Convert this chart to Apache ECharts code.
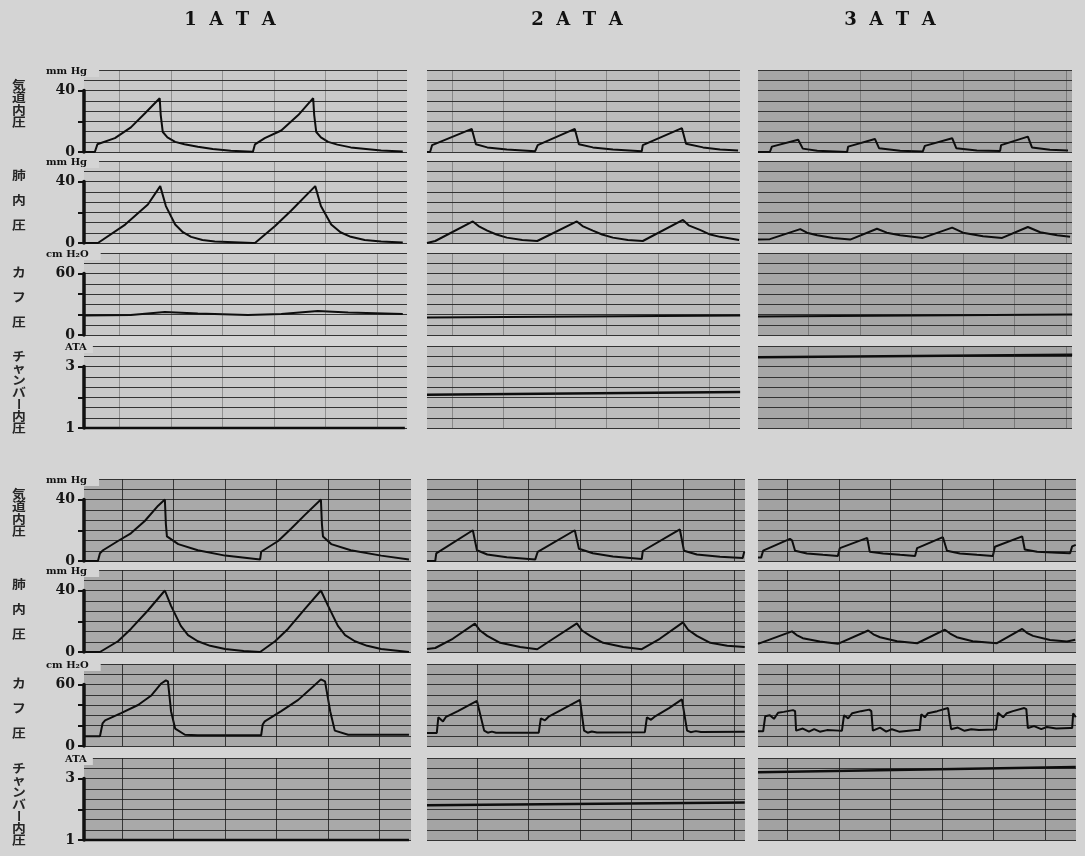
<!DOCTYPE html>
<html>
<head>
<meta charset="utf-8">
<title>気道内圧・肺内圧・カフ圧・チャンバー内圧</title>
<script src="https://cdn.jsdelivr.net/npm/echarts@6/dist/echarts.min.js"></script>
<style>
  html, body { margin: 0; padding: 0; background: #d4d4d4; }
  #chart { width: 1085px; height: 856px; }
</style>
</head>
<body>
<div id="chart"></div>
<script>
// 列見出し・行ラベル
const columnTitles = ['1ATA', '2ATA', '3ATA'];
const rowNames = ['気道内圧', '肺内圧', 'カフ圧', 'チャンバー内圧'];
const unitLabels = ['mm Hg', 'mm Hg', 'cm H₂O', 'ATA'];

// 時間 = 記録紙の縦罫 1 目盛, 値 = mmHg / cmH2O / ATA
// 上段の記録
const upperAirway1 = [[0,0],[0.21,0],[0.26,5],[0.6,9],[0.91,16],[1.18,25],[1.47,35],[1.49,24],[1.53,13],[1.62,9.5],[1.77,6.6],[1.95,5],[2.21,3.4],[2.5,2],[2.85,0.8],[3.28,0.2],[3.32,5],[3.51,9],[3.83,14],[4.16,24],[4.45,35],[4.47,24],[4.51,13],[4.6,9.5],[4.74,6.6],[4.92,4.8],[5.18,3],[5.77,1],[6.19,0.3]];
const upperLung1 = [[0,0],[0.27,0],[0.8,12],[1.24,25],[1.48,37],[1.59,24],[1.77,12],[1.92,7],[2.08,4],[2.3,2],[2.54,1],[3.28,0],[3.32,0],[3.71,11],[4.02,21],[4.49,37],[4.6,24],[4.8,12],[4.98,7],[5.18,4],[5.45,2],[5.77,1],[6.19,0.3]];
const upperCuff1 = [[0,19],[0.91,19.5],[1.57,22.5],[2.21,21],[3.18,19.5],[3.83,20.5],[4.54,23.5],[5.13,22],[6.19,20.5]];
const upperChamber1 = [[0,1],[6.23,1]];

const upperAirway2 = [[0,0],[0.06,0],[0.1,4.5],[0.87,15],[0.9,14],[0.95,5],[1.17,3],[1.55,1.6],[2.1,0.5],[2.13,0.5],[2.15,4.5],[2.87,15],[2.9,14],[2.95,5],[3.22,3],[3.61,1.6],[4.17,0.5],[4.19,4.5],[4.95,15.5],[4.98,14.5],[5.03,5.3],[5.36,3],[5.69,1.6],[6.04,1]];
const upperLung2 = [[0,0],[0.16,1.3],[0.89,14],[1.0,11],[1.17,8],[1.35,5.5],[1.55,3.5],[1.85,2],[2.14,1.3],[2.91,14],[3.02,11],[3.22,8],[3.4,5.5],[3.61,3.5],[3.9,2],[4.19,1.3],[4.97,15],[5.08,11.5],[5.3,8.5],[5.5,5.5],[5.69,4],[6.06,2]];
const upperCuff2 = [[0,17],[3,18],[6.08,19]];
const upperChamber2 = [[0,2.08],[6.08,2.17]];

const upperAirway3 = [[0,0],[0.23,0],[0.27,3.5],[0.78,8],[0.8,7.5],[0.87,2.2],[1.15,0.8],[1.73,0],[1.75,3.5],[2.27,8.5],[2.3,8],[2.35,2.5],[2.76,0.8],[3.2,0.4],[3.24,4],[3.77,9],[3.8,8.5],[3.85,2.5],[4.25,1],[4.7,0.6],[4.72,4.5],[5.24,10],[5.27,9.5],[5.32,3],[5.67,1.5],[6.02,1]];
const upperLung3 = [[0,2.2],[0.23,2.5],[0.82,9],[0.95,6.7],[1.15,5],[1.46,3.3],[1.79,2.2],[2.31,9.3],[2.5,6.7],[2.76,5],[3.2,3.3],[3.77,10],[3.98,6.7],[4.37,4.4],[4.74,3.3],[5.24,10.4],[5.48,7],[5.81,5],[6.06,4]];
const upperCuff3 = [[0,18],[3,19],[6.1,20]];
const upperChamber3 = [[0,3.3],[6.1,3.38]];

// 下段の記録
const lowerAirway1 = [[0,0],[0.27,0],[0.31,5],[0.37,7],[0.66,13],[0.91,18],[1.18,26],[1.44,36],[1.57,40],[1.59,24],[1.61,16],[1.83,11],[2.21,7],[2.74,3.5],[3.42,1],[3.44,6],[3.77,13],[4.02,21],[4.29,30],[4.6,40],[4.62,24],[4.64,16],[4.8,11],[5.18,7],[5.77,3.5],[6.31,1]];
const lowerLung1 = [[0,0],[0.31,0],[0.66,7],[0.91,15],[1.24,27],[1.57,40],[1.69,30],[1.88,17],[2.02,11],[2.21,7],[2.45,4],[2.74,2],[3.1,0.6],[3.42,0],[3.71,7],[3.96,15],[4.29,28],[4.6,40],[4.74,30],[4.93,17],[5.07,11],[5.26,7],[5.5,4],[5.77,2],[6.31,0]];
const lowerCuff1 = [[0,9.5],[0.31,9.5],[0.36,22],[0.41,25],[0.72,32],[1.05,40],[1.3,49],[1.5,61],[1.59,64],[1.63,63],[1.69,34],[1.77,17],[1.96,11],[2.21,10.5],[3.44,10.5],[3.47,21],[3.51,24],[3.83,34],[4.16,45],[4.45,58],[4.6,65],[4.68,63],[4.78,34],[4.87,15],[5.13,11],[6.31,11]];
const lowerChamber1 = [[0,1],[6.31,1]];

const lowerAirway2 = [[0,0],[0.16,0],[0.18,5],[0.89,20],[0.92,19],[0.97,7],[1.17,4.2],[1.55,2.4],[2.1,0.9],[2.13,0.9],[2.15,6],[2.87,20],[2.9,19],[2.95,8],[3.22,5],[3.61,3],[4.17,1.3],[4.19,6.5],[4.91,20.5],[4.94,19.5],[4.99,6.7],[5.24,4.2],[5.69,2.7],[6.13,2],[6.16,6]];
const lowerLung2 = [[0,2],[0.16,2.6],[0.5,8.6],[0.93,18.5],[1.03,14],[1.17,10.5],[1.42,6],[1.81,3.3],[2.14,1.8],[2.45,8.6],[2.91,18.6],[3.01,14],[3.17,10.5],[3.42,6],[3.81,3.3],[4.17,1.8],[4.52,8.6],[4.97,19.3],[5.07,14.5],[5.24,10.5],[5.5,6],[5.83,4],[6.17,3.3]];
const lowerCuff2 = [[0,12.7],[0.19,12.7],[0.22,28],[0.31,24],[0.37,28.5],[0.6,34],[0.97,44],[1.0,43],[1.11,15],[1.18,13],[1.26,14],[1.34,13],[1.51,13],[2.17,13],[2.21,27],[2.29,25],[2.37,29],[2.6,35],[2.97,45],[3.0,44],[3.05,15],[3.12,13],[3.2,14.2],[3.3,13.2],[4.23,13.5],[4.27,28],[4.35,25.5],[4.43,29],[4.7,37],[4.95,45.5],[4.98,44],[5.05,15],[5.12,13.5],[5.22,14.5],[5.32,13.6],[6.17,14]];
const lowerChamber2 = [[0,2.13],[6.17,2.22]];

const lowerAirway3 = [[0,2.2],[0.06,2.2],[0.1,6.7],[0.62,14.4],[0.66,13.5],[0.72,6.7],[0.95,4.9],[1.26,4],[1.55,3.3],[1.59,8.4],[2.12,15],[2.14,14],[2.17,6],[2.43,4.9],[2.76,4],[3.05,3.3],[3.09,8.4],[3.59,15.5],[3.62,14.5],[3.67,6.7],[3.92,4.9],[4.25,4],[4.56,3.3],[4.6,9.3],[5.13,16],[5.15,15],[5.18,7.5],[5.42,6],[5.81,5.4],[6.06,5],[6.1,9.5],[6.17,10.5]];
const lowerLung3 = [[0,5.3],[0.66,13.4],[0.75,11],[0.87,9],[1.2,6.8],[1.55,5.3],[2.14,14],[2.24,11.5],[2.37,9.6],[2.7,7],[3.09,5.7],[3.63,14.5],[3.73,12],[3.86,9.6],[4.17,7],[4.64,5.7],[5.13,15],[5.22,12.5],[5.34,10.5],[5.67,7.8],[6.0,6.8],[6.16,8]];
const lowerCuff3 = [[0,14.3],[0.1,14.3],[0.14,29],[0.23,30],[0.31,26.5],[0.39,32.4],[0.5,33.3],[0.68,35],[0.72,34],[0.74,15],[0.87,17],[0.99,14],[1.09,16.4],[1.2,14],[1.34,15.5],[1.57,15],[1.63,15],[1.67,30],[1.75,27],[1.83,32],[2.0,34],[2.16,35.5],[2.2,34],[2.23,15],[2.37,18],[2.49,14],[2.6,16.4],[2.74,14],[3.07,15.5],[3.14,15.5],[3.17,31],[3.24,28],[3.3,32],[3.48,34],[3.69,37],[3.72,36],[3.75,16.4],[3.88,18],[4.01,14.8],[4.14,16.4],[4.29,15.5],[4.62,16],[4.64,16],[4.66,32.4],[4.76,28],[4.83,32],[4.95,34],[5.17,37],[5.21,36],[5.24,17.5],[5.36,19.4],[5.5,16.4],[5.61,18.5],[5.79,17],[6.06,17.5],[6.1,17.5],[6.12,32],[6.17,28]];
const lowerChamber3 = [[0,3.2],[6.17,3.37]];

// 各行の縦軸 (8 目盛, ラベルは 0 と 6 目盛目)
const rowScales = [
  { min: 0, step: 20 / 3, labelMax: 40, labelStep: 20 },
  { min: 0, step: 20 / 3, labelMax: 40, labelStep: 20 },
  { min: 0, step: 10, labelMax: 60, labelStep: 20 },
  { min: 1, step: 1 / 3, labelMax: 3, labelStep: 1 }
];

const PX_PER_DIV = 51.5;
const PANEL_H = 82;
const DIVS = 8;
const PAGE_BG = '#d4d4d4';

const blocks = [
  {
    rowBottoms: [152, 243, 335, 428],
    cols: [[84, 407], [427, 740], [758, 1072]],
    bg: ['#c9c9c9', '#bdbdbd', '#a6a6a6'],
    vOffset: [0.69, 0.49, 0.98],
    vColor: 'rgba(40,40,40,0.35)',
    traces: [
      [upperAirway1, upperAirway2, upperAirway3],
      [upperLung1, upperLung2, upperLung3],
      [upperCuff1, upperCuff2, upperCuff3],
      [upperChamber1, upperChamber2, upperChamber3]
    ]
  },
  {
    rowBottoms: [561, 652, 746, 840],
    cols: [[84, 411], [427, 745], [758, 1076]],
    bg: ['#a9a9a9', '#a4a4a4', '#a2a2a2'],
    vOffset: [0.74, 0.97, 0.57],
    vColor: 'rgba(25,25,25,0.8)',
    traces: [
      [lowerAirway1, lowerAirway2, lowerAirway3],
      [lowerLung1, lowerLung2, lowerLung3],
      [lowerCuff1, lowerCuff2, lowerCuff3],
      [lowerChamber1, lowerChamber2, lowerChamber3]
    ]
  }
];

// 行ラベルの縦書き配置 (行の 0 線からの位置)
const rowLabelLayout = [
  { start: -67, step: 12.5 },
  { start: -68, step: 25 },
  { start: -63, step: 25 },
  { start: -72, step: 12 }
];

const grid = [], xAxis = [], yAxis = [], series = [], graphic = [];
const serif = '"DejaVu Serif", "Liberation Serif", serif';

blocks.forEach((blk) => {
  blk.cols.forEach(([x0, x1], c) => {
    const xMax = (x1 - x0) / PX_PER_DIV;
    rowScales.forEach((sc, r) => {
      const yb = blk.rowBottoms[r];
      const gi = grid.length;
      grid.push({
        left: x0, top: yb - PANEL_H, width: x1 - x0, height: PANEL_H,
        show: true, backgroundColor: blk.bg[c], borderWidth: 0
      });
      xAxis.push({ gridIndex: gi, type: 'value', min: 0, max: xMax, show: false });
      yAxis.push({
        gridIndex: gi, type: 'value',
        min: sc.min, max: sc.min + DIVS * sc.step, interval: sc.step,
        axisLine: { show: false }, axisTick: { show: false }, axisLabel: { show: false },
        splitLine: { show: true, lineStyle: { color: '#333', width: 1 } }
      });

      // 縦罫
      const vlines = [];
      for (let v = blk.vOffset[c]; v < xMax; v += 1) vlines.push({ xAxis: +v.toFixed(2) });
      series.push({
        type: 'line', xAxisIndex: gi, yAxisIndex: gi, data: [], z: 1, silent: true,
        markLine: {
          silent: true, symbol: ['none', 'none'], label: { show: false },
          lineStyle: { color: blk.vColor, width: 1, type: 'solid' },
          emphasis: { disabled: true },
          data: vlines
        }
      });

      // 波形
      series.push({
        type: 'line', xAxisIndex: gi, yAxisIndex: gi,
        data: blk.traces[r][c], showSymbol: false, clip: false, z: 3, silent: true,
        lineStyle: { color: '#0d0d0d', width: r === 3 ? 2.5 : 2 }
      });

      // 左列だけ目盛付きの軸
      if (c === 0) {
        const li = grid.length;
        const h = PANEL_H * ((sc.labelMax - sc.min) / sc.step) / DIVS;
        grid.push({ left: x0, top: yb - h, width: 10, height: h });
        xAxis.push({ gridIndex: li, type: 'value', min: 0, max: 1, show: false });
        yAxis.push({
          gridIndex: li, type: 'value', z: 6,
          min: sc.min, max: sc.labelMax, interval: sc.labelStep,
          axisLine: { show: true, lineStyle: { color: '#111', width: 3.5 } },
          axisTick: { show: true, length: 6, lineStyle: { color: '#111', width: 2 } },
          axisLabel: {
            margin: 9, color: '#151515', fontFamily: serif, fontWeight: 'bold', fontSize: 14,
            formatter: (v) => (v === sc.min || v === sc.labelMax) ? String(v) : ''
          },
          splitLine: { show: false }
        });

        graphic.push({
          type: 'text', x: r === 3 ? 64 : 45, y: yb - PANEL_H + 1, z: 10,
          style: {
            text: unitLabels[r], font: 'bold 10px ' + serif, fill: '#111',
            align: 'left', verticalAlign: 'middle',
            backgroundColor: PAGE_BG, padding: [1, r === 3 ? 6 : 12, 1, 1]
          }
        });

        const lay = rowLabelLayout[r];
        rowNames[r].split('').forEach((ch, k) => {
          graphic.push({
            type: 'text', x: 19, y: yb + lay.start + k * lay.step, z: 10,
            rotation: ch === 'ー' ? -Math.PI / 2 : 0,
            scaleX: ch === 'ー' ? 1 : 1.15,
            style: {
              text: ch, font: 'bold 12px "Noto Sans CJK JP"', fill: '#262626',
              align: 'center', verticalAlign: 'middle'
            }
          });
        });
      }
    });
  });
});

// 列見出し
const titleX = [230, 577, 890];
columnTitles.forEach((t, c) => {
  graphic.push({
    type: 'text', x: titleX[c], y: 20, z: 10,
    style: {
      text: t.split('').join('  '), font: 'bold 18px ' + serif, fill: '#111',
      align: 'center', verticalAlign: 'middle'
    }
  });
});

const chart = echarts.init(document.getElementById('chart'));
chart.setOption({
  backgroundColor: PAGE_BG,
  animation: false,
  grid, xAxis, yAxis, series, graphic
});
</script>
</body>
</html>
